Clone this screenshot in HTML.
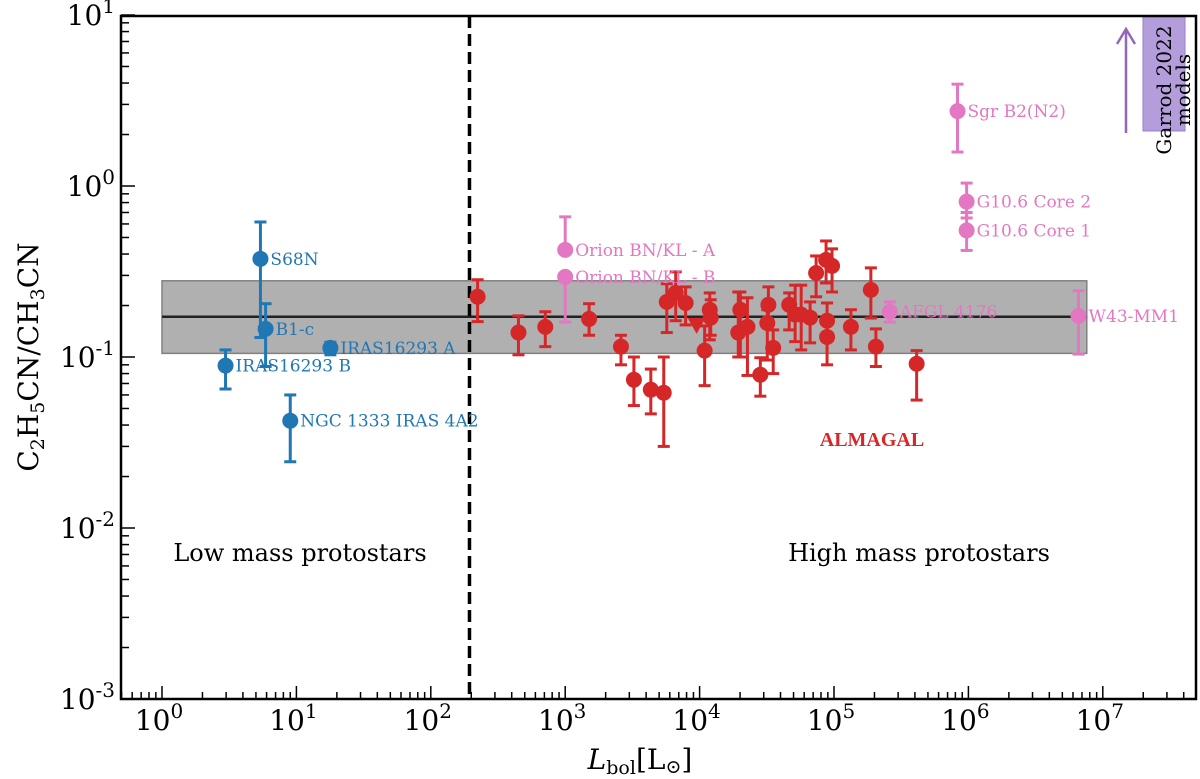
<!DOCTYPE html>
<html><head><meta charset="utf-8"><style>
html,body{margin:0;padding:0;background:#fff;}
svg{display:block;font-family:"DejaVu Serif","Liberation Serif",serif;}
</style></head><body>
<svg id="chart" width="1200" height="779" viewBox="0 0 1200 779"></svg>
<script>
// ---- data ----
const almagalL=[223,449,711,1506,2600,3245,4335,5410,5700,6640,7870,10900,11900,12100,20100,19400,22700,28300,32500,31900,35300,46400,51400,57000,66400,73600,87300,96700,88800,88800,133600,188000,205000,412000];
const almagalR=[0.225,0.139,0.150,0.167,0.115,0.0736,0.0644,0.0618,0.210,0.237,0.207,0.109,0.189,0.170,0.189,0.139,0.150,0.0788,0.202,0.158,0.113,0.202,0.177,0.177,0.170,0.310,0.370,0.341,0.163,0.131,0.150,0.247,0.115,0.0913];
const almagalHi=[0.283,0.174,0.184,0.205,0.134,0.100,0.085,0.100,0.268,0.315,0.257,0.152,0.237,0.216,0.240,0.240,0.222,0.099,0.257,0.189,0.144,0.237,0.263,0.263,0.210,0.390,0.477,0.429,0.207,0.165,0.189,0.332,0.146,0.109];
const almagalLo=[0.161,0.103,0.115,0.134,0.090,0.052,0.0465,0.030,0.139,0.163,0.154,0.068,0.126,0.134,0.100,0.100,0.078,0.059,0.158,0.096,0.080,0.144,0.123,0.110,0.121,0.225,0.271,0.240,0.126,0.090,0.110,0.169,0.088,0.056];
const limitL=[9500], limitR=[0.150];
const lowNames=["S68N","B1-c","IRAS16293 A","IRAS16293 B","NGC 1333 IRAS 4A2"];
const lowL=[5.4,5.9,17.9,2.97,9.0];
const lowR=[0.375,0.146,0.113,0.089,0.0424];
const lowHi=[0.616,0.205,0.122,0.110,0.060];
const lowLo=[0.13,0.088,0.103,0.065,0.0244];
const hiNames=["Orion BN/KL - A","Orion BN/KL - B","AFGL 4176","W43-MM1","Sgr B2(N2)","G10.6 Core 2","G10.6 Core 1"];
const hiL=[1000,1000,260000,6600000,830000,970000,970000];
const hiR=[0.423,0.294,0.184,0.174,2.74,0.81,0.55];
const hiHi=[0.66,0.294,0.21,0.244,3.94,1.04,0.70];
const hiLo=[0.423,0.16,0.16,0.104,1.58,0.65,0.42];
const bandLo=0.105, bandMid=0.172, bandHi=0.279, bandL=[1,7.6e6];
const divideL=194;
const xTicks=[0,1,2,3,4,5,6,7];
const yTicks=[-3,-2,-1,0,1];

// ---- axes ----
const X0=121,X1=1196,Y0=16,Y1=699;
function sx(v){return 162+134.4*Math.log10(v);}
function sy(v){return 186-171*Math.log10(v);}
const svg=document.getElementById('chart');
const NS='http://www.w3.org/2000/svg';
function mk(tag,attrs,parent){const e=document.createElementNS(NS,tag);for(const k in attrs)e.setAttribute(k,attrs[k]);(parent||svg).appendChild(e);return e;}

let g=mk('g',{});


mk('rect',{x:sx(bandL[0]),y:sy(bandHi),width:sx(bandL[1])-sx(bandL[0]),height:sy(bandLo)-sy(bandHi),fill:'#b0b0b0',stroke:'#808080','stroke-width':1.5},g);
mk('line',{x1:sx(bandL[0]),x2:sx(bandL[1]),y1:sy(bandMid),y2:sy(bandMid),stroke:'#222','stroke-width':2.5},g);
let d=mk('line',{x1:sx(divideL),x2:sx(divideL),y1:Y0,y2:Y1,stroke:'#000','stroke-width':3.5,'stroke-dasharray':'12,6'});



function point(L,R,hi,lo,color,name){
  const gg=mk('g',{});
  
  
  const x=sx(L);
  if(hi>R||lo<R){
    mk('line',{x1:x,x2:x,y1:sy(hi),y2:sy(lo),stroke:color,'stroke-width':3},gg);
    mk('line',{x1:x-6,x2:x+6,y1:sy(hi),y2:sy(hi),stroke:color,'stroke-width':3},gg);
    mk('line',{x1:x-6,x2:x+6,y1:sy(lo),y2:sy(lo),stroke:color,'stroke-width':3},gg);
  }
  mk('circle',{cx:x,cy:sy(R),r:8,fill:color},gg);
}
const RED='#d62728',BLUE='#1f77b4',PINK='#e377c2';
for(let i=0;i<almagalL.length;i++) point(almagalL[i],almagalR[i],almagalHi[i],almagalLo[i],RED,'almagal-point');
for(let i=0;i<limitL.length;i++){
  const x=sx(limitL[i]),y=sy(limitR[i]);
  const t=mk('path',{d:`M${x-9},${y-9} L${x+9},${y-9} L${x},${y+7} Z`,fill:RED});
  
  
}
for(let i=0;i<lowL.length;i++){
  point(lowL[i],lowR[i],lowHi[i],lowLo[i],BLUE,'low-mass-point');
  const t=mk('text',{x:sx(lowL[i])+10,y:sy(lowR[i])+6,fill:BLUE,'font-size':17});
  t.textContent=lowNames[i];
  
  
}
for(let i=0;i<hiL.length;i++){
  point(hiL[i],hiR[i],hiHi[i],hiLo[i],PINK,'high-mass-point');
  const t=mk('text',{x:sx(hiL[i])+10,y:sy(hiR[i])+6,fill:PINK,'font-size':17});
  t.textContent=hiNames[i];
  
  
}
let gr=mk('rect',{x:1143,y:16,width:42,height:115,fill:'#b39ddb',stroke:'#9a7fcf','stroke-width':1});


let ar=mk('path',{d:'M1126,133 L1126,29 M1117,44 L1126,29 L1135,44',stroke:'#9467bd','stroke-width':2.5,fill:'none'});


let gt=mk('text',{x:0,y:0,transform:'translate(1171,90) rotate(-90)','text-anchor':'middle','font-size':20,fill:'#000'});
gt.innerHTML='<tspan x="0" dy="0">Garrod 2022</tspan><tspan x="0" dy="19">models</tspan>';



function txt(s,x,y,attrs,name){const t=mk('text',Object.assign({x:x,y:y},attrs));t.textContent=s;return t;}
txt('Low mass protostars',300,561,{'font-size':24,'text-anchor':'middle'},'low-mass-region-label');
txt('High mass protostars',919,561,{'font-size':24,'text-anchor':'middle'},'high-mass-region-label');
txt('ALMAGAL',872,446,{'font-size':20,'font-weight':'bold',fill:RED,'text-anchor':'middle','font-family':'Liberation Serif, serif'},'almagal-label');

let fr=mk('rect',{x:X0,y:Y0,width:X1-X0,height:Y1-Y0,fill:'none',stroke:'#000','stroke-width':2.5});


for(const e of xTicks){
  const x=sx(Math.pow(10,e));
  mk('line',{x1:x,x2:x,y1:Y1,y2:Y1-13,stroke:'#000','stroke-width':1.5});
  const t=mk('text',{x:x-3,y:Y1+31,'font-size':28,'text-anchor':'middle'});
  t.innerHTML='10<tspan dy="-12" font-size="20">'+e+'</tspan>';
  
  
}
for(let e=-1;e<=7;e++)for(let m=2;m<10;m++){
  const x=sx(m*Math.pow(10,e));if(x<X0||x>X1)continue;
  mk('line',{x1:x,x2:x,y1:Y1,y2:Y1-7,stroke:'#000','stroke-width':1.5});
}
for(const e of yTicks){
  const y=sy(Math.pow(10,e));
  mk('line',{x1:X0,x2:X0+14,y1:y,y2:y,stroke:'#000','stroke-width':1.5});
  const t=mk('text',{x:X0-6,y:y+10,'font-size':28,'text-anchor':'end'});
  t.innerHTML='10<tspan dy="-12" font-size="20">'+e+'</tspan>';
  
  
}
for(let e=-3;e<1;e++)for(let m=2;m<10;m++){
  const y=sy(m*Math.pow(10,e));
  mk('line',{x1:X0,x2:X0+8,y1:y,y2:y,stroke:'#000','stroke-width':1.5});
}
let xl=mk('text',{x:640,y:769,'font-size':28,'text-anchor':'middle'});
xl.innerHTML='<tspan font-style="italic">L</tspan><tspan dy="5" font-size="19">bol</tspan><tspan dy="-5">[L</tspan><tspan dy="4" font-size="19">⊙</tspan><tspan dy="-4">]</tspan>';


let yl=mk('text',{x:0,y:0,transform:'translate(38,357) rotate(-90)','font-size':28,'text-anchor':'middle'});
yl.innerHTML='C<tspan dy="6" font-size="19">2</tspan><tspan dy="-6">H</tspan><tspan dy="6" font-size="19">5</tspan><tspan dy="-6">CN/CH</tspan><tspan dy="6" font-size="19">3</tspan><tspan dy="-6">CN</tspan>';


</script>
</body></html>
